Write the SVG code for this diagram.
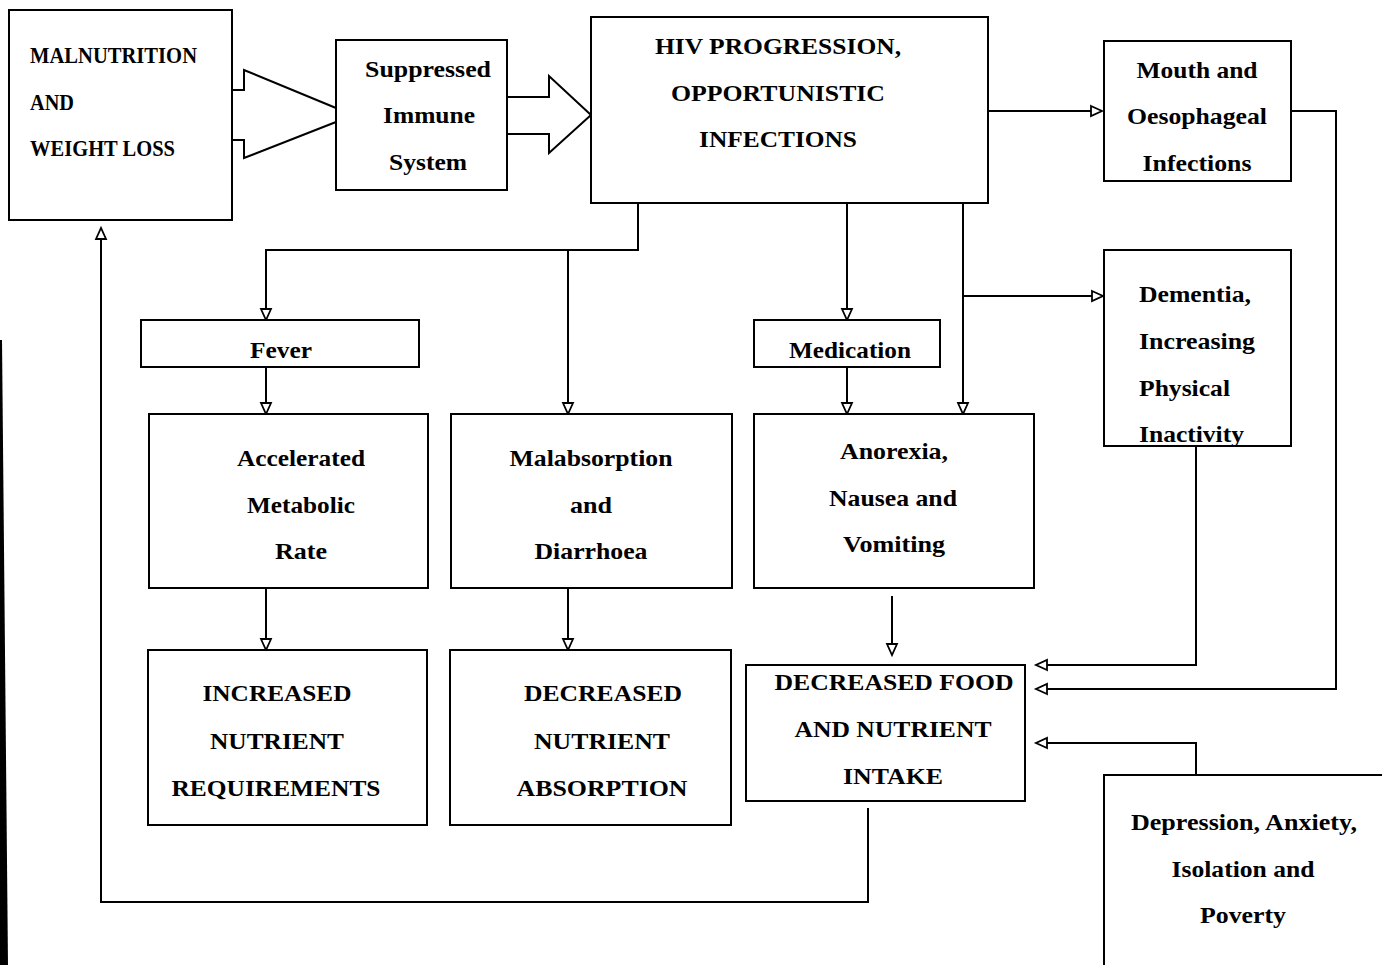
<svg xmlns="http://www.w3.org/2000/svg" width="1382" height="965" viewBox="0 0 1382 965">
<style>
.box{fill:#fff;stroke:#000;stroke-width:2}
.ln{fill:none;stroke:#000;stroke-width:2}
.ar{fill:none;stroke:#000;stroke-width:2;marker-end:url(#tri)}
.blk{fill:#fff;stroke:#000;stroke-width:2;stroke-linejoin:miter}
text{font-family:"Liberation Serif","Times New Roman",serif;font-weight:bold;font-size:24px;fill:#000}
.c{text-anchor:middle}
</style>
<defs>
<marker id="tri" markerUnits="userSpaceOnUse" markerWidth="16" markerHeight="16" refX="12" refY="6" orient="auto" overflow="visible">
<path d="M1,1 L12,6 L1,11 Z" fill="#fff" stroke="#000" stroke-width="1.8"/>
</marker>
</defs>
<rect width="1382" height="965" fill="#fff"/>
<path d="M0,340 L2,340 L8,965 L0,965 Z" fill="#000"/>

<g id="connectors">
<polyline class="blk" points="232,90 244,90 244,70 336,108 336,122 244,158 244,140 232,140"/>
<polyline class="blk" points="507,97 549,97 549,76 591,115 549,153 549,134 507,134"/>
<polyline class="ar" points="988,111 1102,111"/>
<polyline class="ar" points="1291,111 1336,111 1336,689 1036,689"/>
<polyline class="ar" points="638,203 638,250 266,250 266,320"/>
<polyline class="ar" points="568,250 568,414"/>
<polyline class="ar" points="847,203 847,320"/>
<polyline class="ar" points="963,203 963,414"/>
<polyline class="ar" points="963,296 1103,296"/>
<polyline class="ar" points="266,367 266,414"/>
<polyline class="ar" points="847,367 847,414"/>
<polyline class="ar" points="266,588 266,650"/>
<polyline class="ar" points="568,588 568,650"/>
<polyline class="ar" points="892,596 892,655"/>
<polyline class="ar" points="1196,446 1196,665 1036,665"/>
<polyline class="ar" points="1196,775 1196,743 1036,743"/>
<polyline class="ar" points="868,808 868,902 101,902 101,228"/>
</g>

<g id="malnutrition">
<rect class="box" x="9" y="10" width="223" height="210"/>
<text x="30" y="63" textLength="167" lengthAdjust="spacingAndGlyphs" font-size="21">MALNUTRITION</text>
<text x="30" y="110" textLength="44" lengthAdjust="spacingAndGlyphs" font-size="21">AND</text>
<text x="30" y="156" textLength="145" lengthAdjust="spacingAndGlyphs" font-size="21">WEIGHT LOSS</text>
</g>

<g id="suppressed">
<rect class="box" x="336" y="40" width="171" height="150"/>
<text class="c" x="428" y="77" textLength="126" lengthAdjust="spacingAndGlyphs">Suppressed</text>
<text class="c" x="429" y="123" textLength="92" lengthAdjust="spacingAndGlyphs">Immune</text>
<text class="c" x="428" y="170" textLength="78" lengthAdjust="spacingAndGlyphs">System</text>
</g>

<g id="hiv">
<rect class="box" x="591" y="17" width="397" height="186"/>
<text class="c" x="778" y="54" textLength="246" lengthAdjust="spacingAndGlyphs">HIV PROGRESSION,</text>
<text class="c" x="778" y="101" textLength="214" lengthAdjust="spacingAndGlyphs">OPPORTUNISTIC</text>
<text class="c" x="778" y="147" textLength="158" lengthAdjust="spacingAndGlyphs">INFECTIONS</text>
</g>

<g id="mouth">
<rect class="box" x="1104" y="41" width="187" height="140"/>
<text class="c" x="1197" y="78" textLength="121" lengthAdjust="spacingAndGlyphs">Mouth and</text>
<text class="c" x="1197" y="124" textLength="140" lengthAdjust="spacingAndGlyphs">Oesophageal</text>
<text class="c" x="1197" y="171" textLength="109" lengthAdjust="spacingAndGlyphs">Infections</text>
</g>

<g id="fever">
<rect class="box" x="141" y="320" width="278" height="47"/>
<text class="c" x="281" y="358" textLength="62" lengthAdjust="spacingAndGlyphs">Fever</text>
</g>

<g id="medication">
<rect class="box" x="754" y="320" width="186" height="47"/>
<text class="c" x="850" y="358" textLength="122" lengthAdjust="spacingAndGlyphs">Medication</text>
</g>

<g id="dementia">
<rect class="box" x="1104" y="250" width="187" height="196"/>
<text x="1139" y="302" textLength="112" lengthAdjust="spacingAndGlyphs">Dementia,</text>
<text x="1139" y="349" textLength="116" lengthAdjust="spacingAndGlyphs">Increasing</text>
<text x="1139" y="396" textLength="91" lengthAdjust="spacingAndGlyphs">Physical</text>
<text x="1139" y="442" textLength="105" lengthAdjust="spacingAndGlyphs">Inactivity</text>
</g>

<g id="accelerated">
<rect class="box" x="149" y="414" width="279" height="174"/>
<text class="c" x="301" y="466" textLength="128" lengthAdjust="spacingAndGlyphs">Accelerated</text>
<text class="c" x="301" y="513" textLength="108" lengthAdjust="spacingAndGlyphs">Metabolic</text>
<text class="c" x="301" y="559" textLength="52" lengthAdjust="spacingAndGlyphs">Rate</text>
</g>

<g id="malabsorption">
<rect class="box" x="451" y="414" width="281" height="174"/>
<text class="c" x="591" y="466" textLength="163" lengthAdjust="spacingAndGlyphs">Malabsorption</text>
<text class="c" x="591" y="513" textLength="42" lengthAdjust="spacingAndGlyphs">and</text>
<text class="c" x="591" y="559" textLength="113" lengthAdjust="spacingAndGlyphs">Diarrhoea</text>
</g>

<g id="anorexia">
<rect class="box" x="754" y="414" width="280" height="174"/>
<text class="c" x="894" y="459" textLength="108" lengthAdjust="spacingAndGlyphs">Anorexia,</text>
<text class="c" x="893" y="506" textLength="128" lengthAdjust="spacingAndGlyphs">Nausea and</text>
<text class="c" x="894" y="552" textLength="102" lengthAdjust="spacingAndGlyphs">Vomiting</text>
</g>

<g id="increased">
<rect class="box" x="148" y="650" width="279" height="175"/>
<text class="c" x="277" y="701" textLength="149" lengthAdjust="spacingAndGlyphs">INCREASED</text>
<text class="c" x="277" y="749" textLength="134" lengthAdjust="spacingAndGlyphs">NUTRIENT</text>
<text class="c" x="276" y="796" textLength="209" lengthAdjust="spacingAndGlyphs">REQUIREMENTS</text>
</g>

<g id="decreased-absorption">
<rect class="box" x="450" y="650" width="281" height="175"/>
<text class="c" x="603" y="701" textLength="158" lengthAdjust="spacingAndGlyphs">DECREASED</text>
<text class="c" x="602" y="749" textLength="136" lengthAdjust="spacingAndGlyphs">NUTRIENT</text>
<text class="c" x="602" y="796" textLength="171" lengthAdjust="spacingAndGlyphs">ABSORPTION</text>
</g>

<g id="decreased-food">
<rect class="box" x="746" y="665" width="279" height="136"/>
<text class="c" x="894" y="690" textLength="239" lengthAdjust="spacingAndGlyphs">DECREASED FOOD</text>
<text class="c" x="893" y="737" textLength="197" lengthAdjust="spacingAndGlyphs">AND NUTRIENT</text>
<text class="c" x="893" y="784" textLength="100" lengthAdjust="spacingAndGlyphs">INTAKE</text>
</g>

<g id="depression">
<rect class="box" x="1104" y="775" width="286" height="200"/>
<text class="c" x="1244" y="830" textLength="226" lengthAdjust="spacingAndGlyphs">Depression, Anxiety,</text>
<text class="c" x="1243" y="877" textLength="143" lengthAdjust="spacingAndGlyphs">Isolation and</text>
<text class="c" x="1243" y="923" textLength="86" lengthAdjust="spacingAndGlyphs">Poverty</text>
</g>
</svg>
